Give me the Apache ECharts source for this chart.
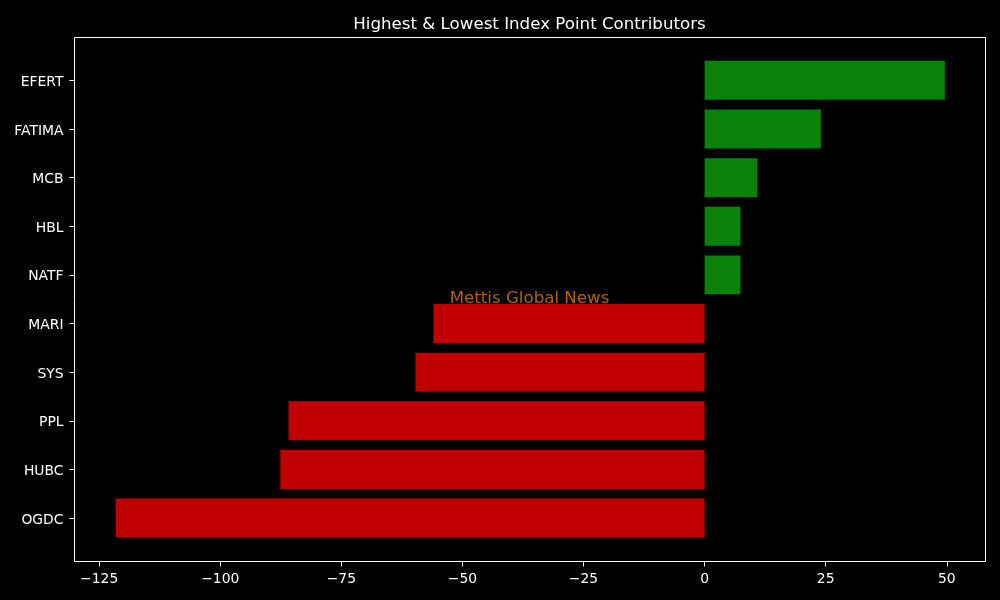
<!DOCTYPE html>
<html>
<head>
<meta charset="utf-8">
<script src="https://cdn.jsdelivr.net/npm/echarts@6/dist/echarts.min.js"></script>
<style>
html,body{margin:0;padding:0;background:#000;}
#chart{width:1000px;height:600px;}
</style>
</head>
<body>
<div id="chart"></div>
<script>
// Data (top to bottom)
const categories = ['EFERT', 'FATIMA', 'MCB', 'HBL', 'NATF', 'MARI', 'SYS', 'PPL', 'HUBC', 'OGDC'];
const values = [49.6, 24.0, 10.9, 7.4, 7.4, -56.0, -59.7, -85.9, -87.6, -121.6];
const xTicks = [-125, -100, -75, -50, -25, 0, 25, 50];
const titleText = 'Highest & Lowest Index Point Contributors';
const watermarkText = 'Mettis Global News';

const FONT = 'DejaVu Sans';
const X_MIN = -130.1, X_MAX = 58.0;

const chart = echarts.init(document.getElementById('chart'), null, {renderer: 'canvas'});
const option = {
  backgroundColor: '#000',
  animation: false,
  title: {
    text: titleText,
    left: 529.5,
    top: 16,
    padding: 0,
    textAlign: 'center',
    textStyle: {color: '#fff', fontFamily: FONT, fontSize: 16.67, fontWeight: 'normal'}
  },
  grid: [
    {left: 74.5, right: 14.5, top: 37.5, bottom: 38.5, show: true, borderColor: '#fff', borderWidth: 1, backgroundColor: 'transparent', containLabel: false},
    {left: 74.5, right: 14.5, top: 56, bottom: 57.6, containLabel: false}
  ],
  xAxis: [
    {
      gridIndex: 0, type: 'value', min: X_MIN, max: X_MAX,
      axisLine: {show: false},
      splitLine: {show: false},
      axisTick: {show: true, length: 5, lineStyle: {color: '#fff', width: 1}, customValues: xTicks},
      axisLabel: {
        show: true, color: '#fff', fontFamily: FONT, fontSize: 13.9, margin: 11,
        customValues: xTicks,
        formatter: v => String(v).replace('-', '\u2212')
      }
    },
    {
      gridIndex: 1, type: 'value', min: X_MIN, max: X_MAX, show: false,
      splitLine: {show: false}
    }
  ],
  yAxis: [
    {gridIndex: 0, type: 'value', show: false, splitLine: {show: false}},
    {
      gridIndex: 1, type: 'category', data: categories, inverse: true,
      position: 'left',
      axisLine: {show: false, onZero: false},
      axisTick: {show: true, alignWithLabel: true, length: 5, lineStyle: {color: '#fff', width: 1}},
      axisLabel: {
        color: '#fff', fontFamily: FONT, fontSize: 13.9, margin: 11,
        formatter: v => '{t|' + v + '}',
        rich: {t: {color: '#fff', fontFamily: FONT, fontSize: 13.9, padding: [4, 0, 0, 0]}}
      },
      splitLine: {show: false}
    }
  ],
  series: [
    {
      type: 'bar',
      xAxisIndex: 1, yAxisIndex: 1,
      data: values,
      barCategoryGap: '20%',
      itemStyle: {
        color: p => (p.value >= 0 ? '#088208' : '#c00000')
      },
      z: 2
    }
  ],
  graphic: [{
    type: 'text', z: 100,
    x: 529.5, y: 299,
    style: {
      text: watermarkText,
      align: 'center', verticalAlign: 'middle',
      fill: '#b26200', fontFamily: FONT, fontSize: 16.67
    }
  }]
};
chart.setOption(option);
</script>
</body>
</html>
